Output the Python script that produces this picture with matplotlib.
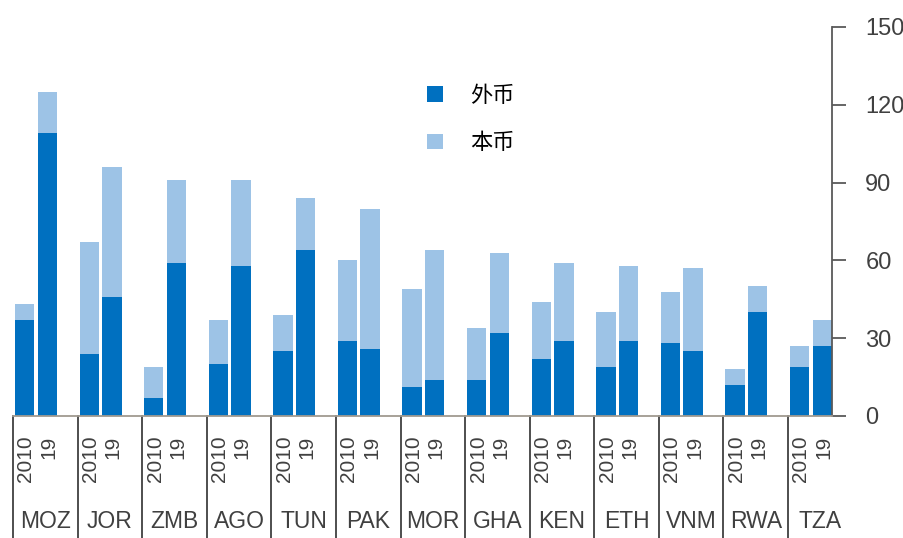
import numpy as np
import matplotlib.pyplot as plt
import matplotlib.transforms as mtransforms
from matplotlib.patches import Patch

plt.rcParams['font.family'] = ['Liberation Sans', 'Noto Sans CJK SC', 'DejaVu Sans']

countries = ["MOZ", "JOR", "ZMB", "AGO", "TUN", "PAK", "MOR",
             "GHA", "KEN", "ETH", "VNM", "RWA", "TZA"]
years = ["2010", "19"]

# foreign-currency debt (dark) and total debt, per country: [2010, 2019]
foreign_2010 = [37, 24, 7, 20, 25, 29, 11, 14, 22, 19, 28, 12, 19]
total_2010 = [43, 67, 19, 37, 39, 60, 49, 34, 44, 40, 48, 18, 27]
foreign_2019 = [109, 46, 59, 58, 64, 26, 14, 32, 29, 29, 25, 40, 27]
total_2019 = [125, 96, 91, 91, 84, 80, 64, 63, 59, 58, 57, 50, 37]

dark = "#0070C0"
light = "#9DC3E6"
grey = "#404040"

fig = plt.figure(figsize=(9.04, 5.38), dpi=100)
ax = fig.add_axes([13 / 904, 122 / 538, 819 / 904, 389 / 538])

groups = np.arange(len(countries))
width = 0.30
offsets = [0.18, 0.53]
series = [(foreign_2010, total_2010), (foreign_2019, total_2019)]

for off, (fx, tot) in zip(offsets, series):
    fx = np.array(fx)
    local = np.array(tot) - fx
    ax.bar(groups + off, fx, width, color=dark, linewidth=0)
    ax.bar(groups + off, local, width, bottom=fx, color=light, linewidth=0)

ax.set_xlim(0, 12.68)
ax.set_ylim(0, 150)

# right-hand axis
ax.yaxis.tick_right()
ax.set_yticks([0, 30, 60, 90, 120, 150])
ax.tick_params(axis='y', direction='out', length=10, width=1.3, color="#595959",
               labelsize=17, labelcolor=grey, pad=14)
ax.set_xticks([])
for side in ["top", "left"]:
    ax.spines[side].set_visible(False)
ax.spines["right"].set_color("#595959")
ax.spines["right"].set_linewidth(1.3)
ax.spines["bottom"].set_color("#A09A90")
ax.spines["bottom"].set_linewidth(1.3)

# category labels below the axis
trans = mtransforms.blended_transform_factory(ax.transData, ax.transAxes)
for i, c in enumerate(countries):
    ax.plot([i, i], [0, -0.4], transform=trans, color=grey, lw=1.3,
            clip_on=False)
    for off, yr in zip(offsets, years):
        ax.text(i + off + 0.02, -0.05, yr, transform=trans, rotation=90,
                ha="center", va="top", fontsize=15, color=grey)
    ax.text(i + 0.5, -0.272, c, transform=trans, ha="center", va="center",
            fontsize=16.5, color=grey)

# legend
handles = [Patch(facecolor=dark), Patch(facecolor=light)]
fig.legend(handles, ["外币", "本币"], loc="upper left",
           bbox_to_anchor=(427 / 904, 1 - 84 / 538), frameon=False,
           handlelength=0.7, handleheight=0.7, borderaxespad=0,
           handletextpad=1.25, labelspacing=1.1, borderpad=0,
           prop={"family": ["Noto Sans CJK SC"], "size": 16})

fig.savefig("out.png", dpi=100)
